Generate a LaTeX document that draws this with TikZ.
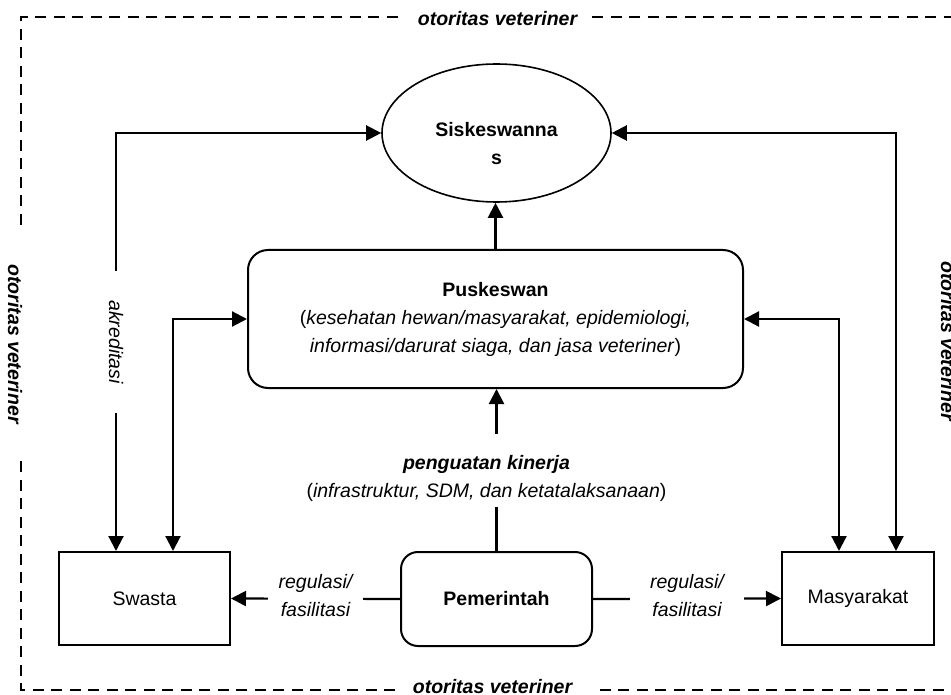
\documentclass[tikz,border=0pt]{standalone}
\usepackage{fontspec}
\setmainfont{Liberation Sans}
\usetikzlibrary{shapes.geometric,arrows.meta,calc}
\begin{document}
\begin{tikzpicture}[x=1pt,y=-1pt,
  font=\fontsize{19.5}{28}\selectfont,
  >={Triangle[length=15pt,width=15pt]},
  conn/.style={line width=2.2pt},
  boxnode/.style={draw,line width=2pt,inner sep=0pt,align=center},
  lbl/.style={fill=white,inner ysep=2pt,align=center,font=\fontsize{19.5}{28}\selectfont\itshape},
  border/.style={line width=2.4pt,dash pattern=on 11pt off 7.5pt},
  otor/.style={inner sep=0pt,font=\fontsize{19.5}{28}\selectfont\bfseries\itshape}]
\useasboundingbox (0,0) rectangle (951,695);

% nodes
\node[ellipse,draw,line width=1.6pt,minimum width=229pt,minimum height=138pt,inner sep=0pt] (sis) at (496.5,133) {};
\node[inner sep=0pt,align=center,font=\fontsize{19.5}{28}\selectfont\bfseries] (sistxt) at (496.5,144) {Siskeswanna\\s};
\node[boxnode,rounded corners=20pt,minimum width=495pt,minimum height=138pt] (pus) at (495.5,319)
  {\textbf{Puskeswan}\\(\textit{kesehatan hewan/masyarakat, epidemiologi,}\\\textit{informasi/darurat siaga, dan jasa veteriner})};
\node[boxnode,minimum width=171pt,minimum height=93pt] (sw) at (144.5,598.5) {Swasta};
\node[boxnode,minimum width=152pt,minimum height=93pt] (ma) at (858,598.5) {Masyarakat};
\node[boxnode,rounded corners=17pt,minimum width=191pt,minimum height=94pt,font=\fontsize{19.5}{28}\selectfont\bfseries] (pem) at (496.5,599) {Pemerintah};
\node[inner sep=0pt,align=center] (pk) at (486.5,478)
  {\textbf{\textit{penguatan kinerja}}\\(\textit{infrastruktur, SDM, dan ketatalaksanaan})};

% border labels
\node[otor] (bt) at (497.5,19) {otoritas veteriner};
\node[otor] (bb) at (492.5,687) {otoritas veteriner};
\node[otor,rotate=-90] (bl) at (15,344) {otoritas veteriner};
\node[otor,rotate=-90] (br) at (948,341) {otoritas veteriner};

% border
\draw[border] (21,225) -- (21,17) -- (402,17);
\draw[border] (592,17) -- (954,17) -- (954,225);
\draw[border] (954,460) -- (954,690) -- (592,690);
\draw[border] (395,690) -- (21,690) -- (21,460);

% corner coordinates
\coordinate (lo) at (116,133);
\coordinate (li) at (173,319);
\coordinate (ro) at (896,133);
\coordinate (ri) at (839,319);

% connectors
\draw[conn,<->] (sis.west) -- (lo) -- node[lbl,rotate=-90,inner xsep=29pt,inner ysep=1pt] (akr) {akreditasi} (lo |- sw.north);
\draw[conn,<->] (pus.west) -- (li) -- (li |- sw.north);
\draw[conn,<->] (sis.east) -- (ro) -- (ro |- ma.north);
\draw[conn,<->] (pus.east) -- (ri) -- (ri |- ma.north);
\draw[conn,->] (pus.north) -- (pus.north |- sis.south);
\draw[conn,->] (pem.west) -- node[lbl,inner xsep=10.5pt,yshift=3pt] (rl) {regulasi/\\fasilitasi} (sw.east);
\draw[conn,->] (pem.east) -- node[lbl,inner xsep=20pt,yshift=3pt] (rr) {regulasi/\\fasilitasi} (ma.west);
\draw[conn] (pem.north) -- ($(pem.north |- pk.south)+(0,6)$);
\draw[conn,->] ($(pem.north |- pk.north)+(0,-21)$) -- (pem.north |- pus.south);
\end{tikzpicture}
\end{document}
